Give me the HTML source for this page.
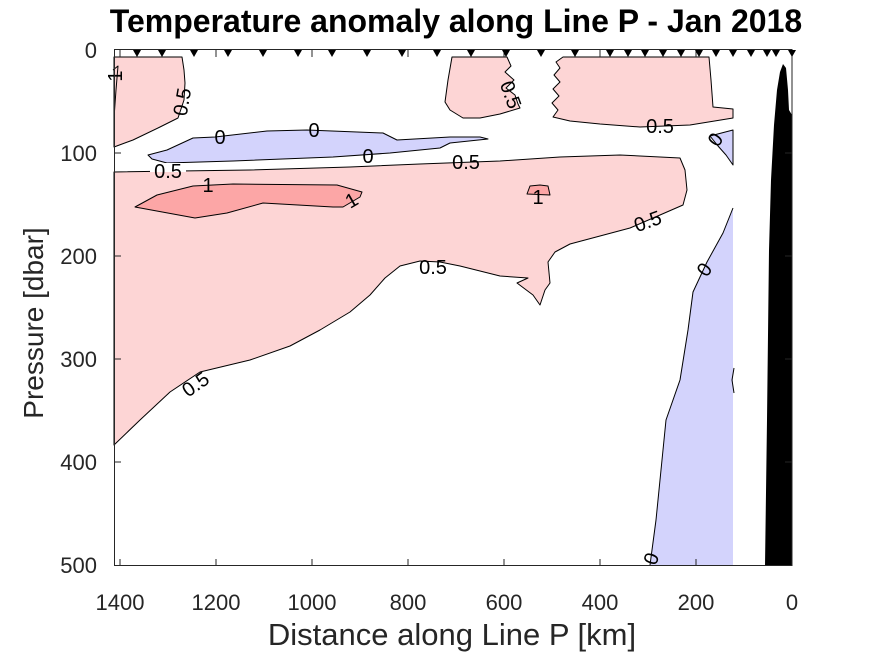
<!DOCTYPE html>
<html><head><meta charset="utf-8"><style>
body{margin:0;background:#fff}
svg{display:block;font-family:"Liberation Sans",sans-serif}
</style></head><body>
<svg width="875" height="656" viewBox="0 0 875 656" xmlns="http://www.w3.org/2000/svg">
<rect width="875" height="656" fill="#fff"/>
<g stroke="#000" stroke-width="1" stroke-linejoin="round">
<polygon fill="#fdd5d5" points="114,172 250,170 350,167 420,164 500,161 560,157 620,155 680,158 685,170 687,190 683,205 660,215 630,228 600,236 570,244 555,252 548,262 550,283 545,290 540,305 533,295 517,283 528,278 500,276 480,271 460,266 440,262 420,261 400,266 385,278 370,295 350,312 320,330 290,346 250,360 200,372 170,392 140,420 114,445"/>
<polygon fill="#fdd5d5" points="114,57 182,57 184,70 185,83 184,100 178,118 160,127 133,140 114,147"/>
<polygon fill="#fdd5d5" points="452,57 507,57 511,66 505,72 514,80 506,88 515,95 518,104 520,108 500,114 480,118 463,118 450,110 445,102 448,80"/>
<polygon fill="#fdd5d5" points="563,57 709,57 711,80 713,107 733,109 733,118 690,125 640,127 600,124 570,121 553,117 558,110 552,103 559,96 553,89 560,82 554,75 560,68 556,62"/>
<polygon fill="#d3d3fc" points="148,155 167,150 193,138 215,137 267,131 307,130 383,133 397,140 450,137 480,137 488,139 450,143 440,148 390,153 333,157 233,161 167,163 152,159"/>
<polygon fill="#fca6a6" points="135,207 157,195 193,186 233,184 337,185 362,192 360,197 343,207 333,207 263,203 227,213 195,218"/>
<polygon fill="#fca6a6" points="527,194 530,186 540,185 548,186 550,195"/>
<polygon fill="#d3d3fc" points="710,136 733,130 733,165 726,155 718,146"/>
<polygon fill="#d3d3fc" stroke="none" points="733,208 723,233 707,262 693,292 688,330 680,380 666,420 661,470 656,520 650,565 733,565"/>
<polyline fill="none" points="733,208 723,233 707,262 693,292 688,330 680,380 666,420 661,470 656,520 650,565"/>
<polyline fill="none" points="734,368 732,380 734,393"/>
<polyline fill="none" points="113,70 118,66 116,90 114,118"/>
</g>
<path d="M765,566 L767,420 L769,250 L771,180 L774,125 L777,90 L780,72 L783,64 L786,68 L788,90 L789,110 L792,115 L792,566 Z" fill="#000"/>
<g font-size="20" fill="#000" text-anchor="middle" dominant-baseline="central">
<rect x="150" y="163" width="36" height="9" fill="#fff"/><text x="168" y="172">0.5</text>
<text x="183" y="102" transform="rotate(-80 183 102)">0.5</text>
<text x="220" y="138">0</text>
<text x="314" y="131">0</text>
<text x="368" y="157">0</text>
<text x="466" y="163">0.5</text>
<text x="208" y="186">1</text>
<text x="352" y="201" transform="rotate(-30 352 201)">1</text>
<text x="538" y="198">1</text>
<text x="510" y="95" transform="rotate(70 510 95)">0.5</text>
<text x="660" y="127">0.5</text>
<text x="648" y="222" transform="rotate(-20 648 222)">0.5</text>
<text x="433" y="268">0.5</text>
<text x="196" y="385" transform="rotate(-35 196 385)">0.5</text>
<text x="716" y="140" transform="rotate(-55 716 140)">0</text>
<text x="705" y="270" transform="rotate(-55 705 270)">0</text>
<text x="652" y="559" transform="rotate(-70 652 559)">0</text>
<text x="116" y="76" transform="rotate(-90 116 76)">1</text>
</g>
<rect x="114.5" y="49.5" width="677.5" height="516" fill="none" stroke="#262626" stroke-width="1"/>
<g stroke="#262626">
<line x1="120" y1="566" x2="120" y2="559"/><line x1="216" y1="566" x2="216" y2="559"/><line x1="312" y1="566" x2="312" y2="559"/><line x1="408" y1="566" x2="408" y2="559"/><line x1="504" y1="566" x2="504" y2="559"/><line x1="600" y1="566" x2="600" y2="559"/><line x1="696" y1="566" x2="696" y2="559"/>
<line x1="120" y1="50" x2="120" y2="57"/><line x1="216" y1="50" x2="216" y2="57"/><line x1="312" y1="50" x2="312" y2="57"/><line x1="408" y1="50" x2="408" y2="57"/><line x1="504" y1="50" x2="504" y2="57"/><line x1="600" y1="50" x2="600" y2="57"/><line x1="696" y1="50" x2="696" y2="57"/>
<line x1="114" y1="153" x2="121" y2="153"/><line x1="114" y1="256" x2="121" y2="256"/><line x1="114" y1="359" x2="121" y2="359"/><line x1="114" y1="462" x2="121" y2="462"/>
<line x1="792" y1="153" x2="785" y2="153"/><line x1="792" y1="256" x2="785" y2="256"/><line x1="792" y1="359" x2="785" y2="359"/><line x1="792" y1="462" x2="785" y2="462"/>
</g>
<g fill="#000">
<path d="M133,50h8l-4,7z M158,50h8l-4,7z M190,50h8l-4,7z M224,50h8l-4,7z M259,50h8l-4,7z M294,50h8l-4,7z M328,50h8l-4,7z M363,50h8l-4,7z M398,50h8l-4,7z M433,50h8l-4,7z M467,50h8l-4,7z M502,50h8l-4,7z M537,50h8l-4,7z M571,50h8l-4,7z M606,50h8l-4,7z M624,50h8l-4,7z M641,50h8l-4,7z M659,50h8l-4,7z M677,50h8l-4,7z M695,50h8l-4,7z M712,50h8l-4,7z M729,50h8l-4,7z M747,50h8l-4,7z M763,50h8l-4,7z M772,50h8l-4,7z M788,50h8l-4,7z"/>
</g>
<g font-size="22" fill="#262626">
<g text-anchor="middle">
<text x="120" y="610">1400</text><text x="216" y="610">1200</text><text x="312" y="610">1000</text><text x="408" y="610">800</text><text x="504" y="610">600</text><text x="600" y="610">400</text><text x="696" y="610">200</text><text x="792" y="610">0</text>
</g>
<g text-anchor="end">
<text x="97" y="58">0</text><text x="97" y="161">100</text><text x="97" y="264">200</text><text x="97" y="367">300</text><text x="97" y="470">400</text><text x="97" y="573">500</text>
</g>
</g>
<text x="452" y="645" font-size="31" fill="#262626" text-anchor="middle">Distance along Line P [km]</text>
<text x="0" y="0" font-size="28" fill="#262626" text-anchor="middle" transform="translate(43 323) rotate(-90)">Pressure [dbar]</text>
<text x="456" y="32" font-size="32" font-weight="bold" fill="#000" text-anchor="middle">Temperature anomaly along Line P - Jan 2018</text>
</svg>
</body></html>
